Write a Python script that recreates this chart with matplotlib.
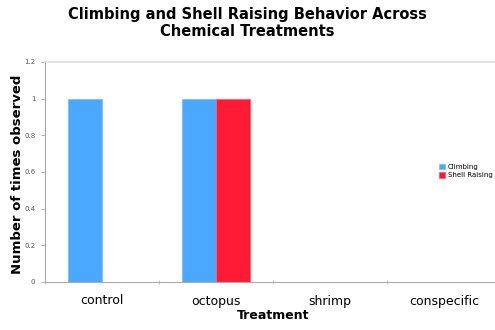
import matplotlib
matplotlib.use("Agg")
import matplotlib.pyplot as plt
import numpy as np

categories = ["control", "octopus", "shrimp", "conspecific"]
climbing = [1, 1, 0, 0]
shell_raising = [0, 1, 0, 0]
yticks = [0, 0.2, 0.4, 0.6, 0.8, 1, 1.2]
ytick_labels = ["0", "0.2", "0.4", "0.6", "0.8", "1", "1.2"]

fig = plt.figure(figsize=(4.95, 3.3), dpi=100)
ax = fig.add_axes([45/495, 1-282/330, 456/495, 220/330])

x = np.arange(len(categories))
w = 0.3
ax.bar(x - w/2, climbing, width=w, color="#4AA8FF", edgecolor="#7cc0ff", linewidth=0.6, label="Climbing")
ax.bar(x + w/2, shell_raising, width=w, color="#FF1A35", edgecolor="#ff6070", linewidth=0.6, label="Shell Raising")

ax.set_xlim(-0.5, len(categories) - 0.5)
ax.set_ylim(0, 1.2)
ax.set_yticks(yticks)
ax.set_yticklabels(ytick_labels, fontsize=5, color="#555555")
ax.set_xticks(np.arange(len(categories) + 1) - 0.5, minor=False)
ax.set_xticklabels([])
ax.set_xticks(x, minor=True)
ax.set_xticklabels(categories, minor=True, fontsize=9)
ax.tick_params(axis="x", which="minor", length=0, pad=9)
ax.tick_params(axis="x", which="major", length=3, color="#cccccc", direction="inout")
ax.tick_params(axis="y", length=3, color="#aaaaaa", direction="out", width=0.6, pad=4)

ax.spines["right"].set_visible(False)
ax.spines["top"].set_color("#dddddd")
ax.spines["top"].set_linewidth(1.2)
ax.spines["left"].set_color("#aaaaaa")
ax.spines["left"].set_linewidth(0.8)
ax.spines["bottom"].set_color("#aaaaaa")
ax.spines["bottom"].set_linewidth(0.8)

ax.set_xlabel("Treatment", fontsize=9, fontweight="bold", labelpad=1)
ax.set_ylabel("Number of times observed", fontsize=9.5, fontweight="bold")
ax.yaxis.set_label_coords(-0.061, 0.49)
ax.yaxis.label.set_va("center")

fig.text(0.5, 1-23/330, "Climbing and Shell Raising Behavior Across\nChemical Treatments",
         ha="center", va="center", fontsize=10.5, fontweight="bold", linespacing=1.15)

leg = ax.legend(loc="center left", fontsize=5,
                frameon=False, handlelength=0.9, handleheight=0.9, handletextpad=0.4,
                labelspacing=0.3, borderaxespad=0)
leg.set_bbox_to_anchor((436/495, 1-171/330), transform=fig.transFigure)

fig.savefig("out.png", dpi=100)
